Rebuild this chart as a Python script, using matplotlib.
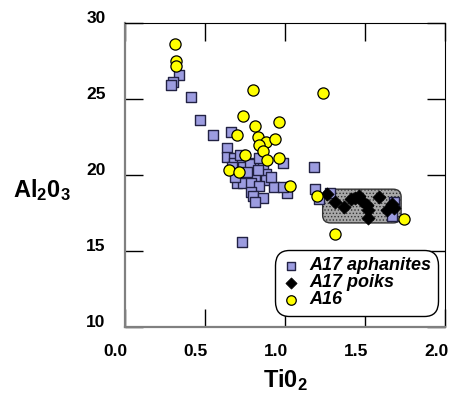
import matplotlib.pyplot as plt
import matplotlib.transforms as mtransforms
from matplotlib.patches import FancyBboxPatch

plt.rcParams['font.family'] = ['Liberation Sans', 'DejaVu Sans']
plt.rcParams['mathtext.fontset'] = 'custom'
plt.rcParams['mathtext.bf'] = 'Liberation Sans:bold'
plt.rcParams['mathtext.rm'] = 'Liberation Sans:bold'
plt.rcParams['hatch.color'] = '#444444'
plt.rcParams['hatch.linewidth'] = 0.6

# A17 aphanites (squares)
aph_ti = [0.34, 0.30, 0.29, 0.41, 0.47, 0.55, 0.66, 0.64, 0.64, 0.68, 0.68, 0.73,
          0.67, 0.74, 0.81, 0.86, 0.77, 0.81, 0.88, 0.88, 0.70, 0.74, 0.79, 0.84,
          0.93, 0.99, 1.18, 0.79, 0.80, 0.86, 0.81, 1.01, 0.99, 1.19, 1.21, 1.28,
          1.68, 1.67, 0.73, 0.72, 0.78, 0.83, 0.84, 0.76, 0.91, 0.69]
aph_al = [26.6, 26.1, 25.9, 25.1, 23.6, 22.6, 22.8, 21.8, 21.2, 21.1, 20.8, 21.1,
          20.5, 20.5, 20.8, 20.6, 20.1, 19.9, 20.1, 19.7, 19.5, 19.5, 19.5, 19.3,
          19.2, 20.8, 20.5, 18.9, 18.6, 18.5, 18.2, 18.8, 19.2, 19.1, 18.4, 18.8,
          18.2, 17.3, 15.6, 21.3, 20.7, 20.3, 21.1, 20.2, 19.9, 19.9]

# A17 poikilitic (diamonds)
poik_ti = [1.26, 1.31, 1.37, 1.41, 1.44, 1.46, 1.48, 1.51, 1.52, 1.52, 1.59, 1.64, 1.68, 1.67]
poik_al = [18.75, 18.2, 17.9, 18.4, 18.5, 18.6, 18.3, 18.0, 17.7, 17.2, 18.55, 17.7, 17.8, 18.1]

# A16 (circles)
a16_ti = [0.31, 0.32, 0.32, 0.80, 1.24, 0.74, 0.81, 0.96, 0.70, 0.83, 0.88, 0.94,
          0.84, 0.86, 0.75, 0.89, 0.96, 0.65, 0.71, 1.03, 1.20, 1.31, 1.74]
a16_al = [28.6, 27.5, 27.2, 25.6, 25.4, 23.9, 23.2, 23.5, 22.6, 22.5, 22.2, 22.4,
          22.0, 21.6, 21.3, 21.0, 21.1, 20.3, 20.2, 19.3, 18.6, 16.1, 17.1]

fig = plt.figure(figsize=(4.51, 3.96), dpi=100)
ax = fig.add_axes([0.277, 0.174, 0.71, 0.768])

# shaded field around poikilitic samples
box = FancyBboxPatch((1.235, 16.85), 0.49, 2.22, boxstyle='round,pad=0,rounding_size=0.05',
                     mutation_aspect=10, facecolor='#a8a8a8', edgecolor='#333333',
                     hatch='.....', linewidth=1.0, zorder=1)
ax.add_patch(box)

ax.scatter(aph_ti, aph_al, marker='s', s=55, facecolor='#9c9ce0', edgecolor='#222244',
           linewidth=1.0, zorder=2, label='A17 aphanites')
ax.scatter(poik_ti, poik_al, marker='D', s=45, facecolor='black', edgecolor='black',
           linewidth=0.5, zorder=3, label='A17 poiks')
ax.scatter(a16_ti, a16_al, marker='o', s=65, facecolor='#ffff00', edgecolor='black',
           linewidth=0.9, zorder=4, label='A16')

ax.set_xlim(0, 2)
ax.set_ylim(10, 30)
ax.set_xticks([0.0, 0.5, 1.0, 1.5, 2.0])
ax.set_xticklabels(['0.0', '0.5', '1.0', '1.5', '2.0'])
ax.set_yticks([10, 15, 20, 25, 30])
ax.tick_params(direction='in', length=13, width=1, top=True, right=True,
               labelsize=12.5)
ax.tick_params(axis='x', pad=12)
ax.tick_params(axis='y', pad=14)

# tick labels sit a little left / above their ticks in the original
xoff = mtransforms.ScaledTranslation(-9 / 100, 0, fig.dpi_scale_trans)
yoff = mtransforms.ScaledTranslation(0, 6 / 100, fig.dpi_scale_trans)
for lab in ax.get_xticklabels():
    lab.set_fontweight('bold')
    lab.set_transform(lab.get_transform() + xoff)
for lab in ax.get_yticklabels():
    lab.set_fontweight('bold')
    lab.set_transform(lab.get_transform() + yoff)

for side in ['left', 'bottom']:
    ax.spines[side].set_color('#808080')
    ax.spines[side].set_linewidth(1.6)

ax.set_xlabel(r'$\mathbf{Ti0_2}$', fontsize=17, labelpad=6)
ax.set_ylabel(r'$\mathbf{Al_20_3}$', fontsize=17, rotation=0, labelpad=34, va='center')
ax.yaxis.set_label_coords(-0.26, 0.45)

leg = ax.legend(loc='lower right', bbox_to_anchor=(0.995, 0.02), fancybox=True,
                edgecolor='black', framealpha=1, handletextpad=0.5, borderpad=0.2,
                labelspacing=0.0, handlelength=1.0, markerscale=0.85,
                prop={'weight': 'bold', 'style': 'italic', 'size': 13})
leg.get_frame().set_linewidth(1.0)
leg.get_frame().set_boxstyle('round,pad=0.2,rounding_size=0.8')

fig.savefig('out.png', dpi=100)
